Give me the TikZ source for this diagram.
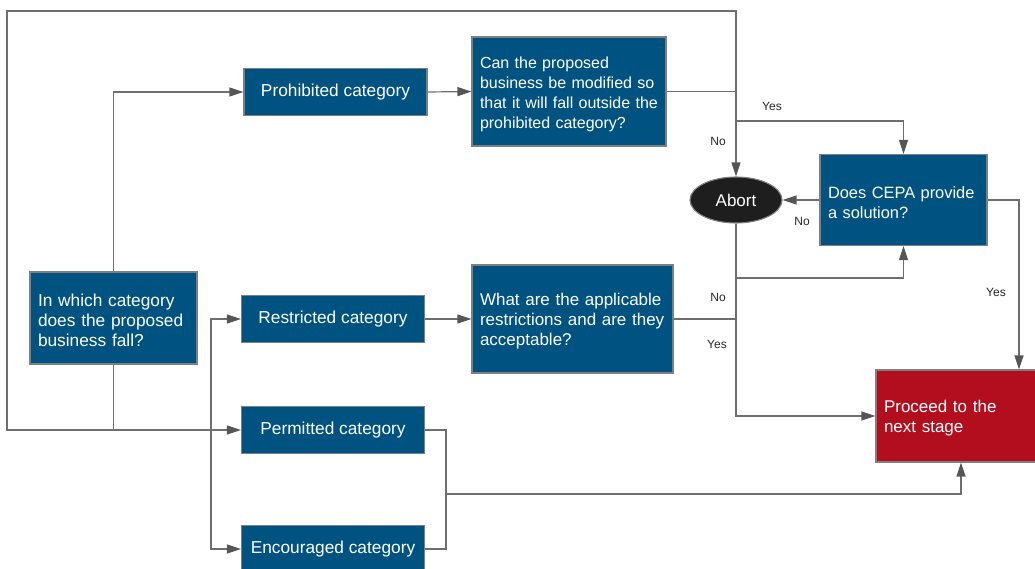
\documentclass[tikz,border=0pt]{standalone}
\usepackage{fontspec}
\setmainfont{Liberation Sans}
\usetikzlibrary{shapes.geometric,arrows.meta}
\definecolor{hopxanh}{HTML}{005380}
\definecolor{hopdo}{HTML}{B20E1E}
\definecolor{hopden}{HTML}{1E1E1E}
\definecolor{vien}{HTML}{7F7F7F}
\definecolor{duong}{HTML}{6E6E6E}
\definecolor{muiten}{HTML}{565656}

\begin{document}
\begin{tikzpicture}[x=1pt,y=-1pt,
		hop/.style={draw=vien, fill=hopxanh, text=white, line width=1.1pt, inner ysep=0pt, inner xsep=8pt, font=\fontsize{17.3}{20}\selectfont},
		hoihop/.style={hop, align=left, execute at begin node={\rule{0pt}{16.5pt}}},
		muchop/.style={hop, align=center, minimum width=183pt, minimum height=47pt},
		nhan/.style={font=\fontsize{12}{14}\selectfont, text=black!85},
		noi/.style={draw=duong, line width=1.2pt},
		ten/.style={noi, -{Triangle[length=14pt,width=9pt,fill=muiten,color=muiten]}}]
			\useasboundingbox (0,0) rectangle (1035,568);
			\node[hoihop, minimum height=92pt, text width=151pt] (hoi) at (113.5,318) {In which category\\\mbox{does the proposed}\\business fall?};
			\node[muchop] (camdoan) at (335.5,92) {Prohibited category};
			\node[muchop] (hanche) at (333,319) {Restricted category};
			\node[muchop] (chophep) at (333,430) {Permitted category};
			\node[muchop] (khuyen) at (333,549) {Encouraged category};
			\node[hoihop, minimum height=109pt, text width=178pt, font=\fontsize{16}{20}\selectfont] (suadoi) at (569,91.5) {Can the proposed\\\mbox{business be modified so}\\\mbox{that it will fall outside the}\\\mbox{prohibited category?}};
			\node[hoihop, minimum height=108pt, text width=185pt, font=\fontsize{17}{20}\selectfont] (dieukien) at (572.5,319) {\mbox{What are the applicable}\\\mbox{restrictions and are they}\\acceptable?};
			\node[hoihop, minimum height=91pt, text width=151pt, font=\fontsize{16.4}{20}\selectfont] (cepa) at (903.5,200) {\mbox{Does CEPA provide}\\a solution?};
			\node[hoihop, fill=hopdo, minimum height=92pt, text width=154pt, font=\fontsize{17}{20}\selectfont] (tieptuc) at (961,416) {Proceed to the\\next stage};
			\node[ellipse, draw=vien, fill=hopden, line width=1.1pt, text=white, minimum width=92pt, minimum height=46pt, inner sep=0pt, font=\fontsize{17}{20}\selectfont] (huy) at (736,200) {Abort};
			\coordinate (gocvong) at (7,11);
			\coordinate (nhanh) at (211,430);
			\coordinate (cotyes) at (736,121);
			\coordinate (duoihuy) at (736,278);
			\coordinate (racepa) at (1019,200);
			\coordinate (gop) at (446,494);
			\draw[ten] (hoi.north) |- (camdoan.west);
			\draw[ten] (hoi.south) |- (chophep.west);
			\draw[ten] (hoi.south |- chophep.west) -| (gocvong) -| (huy.north);
			\draw[ten] (nhanh) |- (hanche.west);
			\draw[ten] (nhanh) |- (khuyen.west);
			\draw[ten] (camdoan.east) -- (suadoi.west);
			\draw[ten] (hanche.east) -- (dieukien.west);
			\draw[noi] (suadoi.east) -- (suadoi.east -| huy.north);
			\draw[ten] (cotyes) -| (cepa.north);
			\draw[ten] (cepa.west) -- (huy.east);
			\draw[ten] (huy.south) -- (duoihuy) -| (cepa.south);
			\draw[noi] (dieukien.east) -- (dieukien.east -| duoihuy);
			\draw[ten] (duoihuy) |- (tieptuc.west);
			\draw[ten] (cepa.east) -| (racepa |- tieptuc.north);
			\draw[noi] (chophep.east) -| (gop);
			\draw[noi] (khuyen.east) -| (gop);
			\draw[ten] (gop) -| (tieptuc.south);
			\node[nhan] (nhan1) at (772,106) {Yes};
			\node[nhan] (nhan2) at (718,141) {No};
			\node[nhan] (nhan3) at (802,221) {No};
			\node[nhan] (nhan4) at (718,297) {No};
			\node[nhan] (nhan5) at (717,344) {Yes};
			\node[nhan] (nhan6) at (996,292) {Yes};
		\end{tikzpicture}
\end{document}
